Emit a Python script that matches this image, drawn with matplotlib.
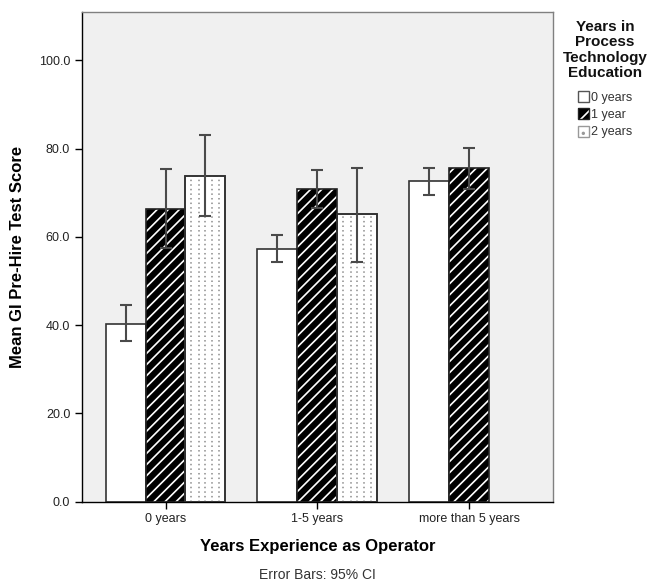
import numpy as np
import matplotlib
matplotlib.use('Agg')
import matplotlib.pyplot as plt
from matplotlib.patches import Patch

plt.rcParams['font.family'] = ['Liberation Sans', 'DejaVu Sans']
plt.rcParams['hatch.linewidth'] = 1.2

# Data (means and 95% CI bounds)
groups = ['0 years', '1-5 years', 'more than 5 years']
series = ['0 years', '1 year', '2 years']
mean_0yr = [40.2, 57.3, 72.6]
lo_0yr = [36.3, 54.3, 69.5]
hi_0yr = [44.5, 60.3, 75.5]
mean_1yr = [66.3, 70.9, 75.5]
lo_1yr = [57.5, 66.6, 70.8]
hi_1yr = [75.4, 75.2, 80.2]
mean_2yr = [73.7, 65.1, np.nan]
lo_2yr = [64.6, 54.3, np.nan]
hi_2yr = [83.1, 75.5, np.nan]

fig = plt.figure(figsize=(6.51, 5.84), dpi=100)
ax = fig.add_axes([0.126, 0.141, 0.723, 0.839])
ax.set_facecolor('#f0f0f0')

x = np.arange(len(groups))
w = 0.263
err_kw = dict(fmt='none', ecolor='#4a4a4a', elinewidth=1.5, capsize=4, capthick=1.5, zorder=5)

def errs(m, lo, hi):
    m, lo, hi = np.array(m), np.array(lo), np.array(hi)
    return np.vstack([m - lo, hi - m])

# 0 years: plain white bars
ax.bar(x - w, mean_0yr, w, color='white', edgecolor='#333333', linewidth=1.2, zorder=2)
ax.errorbar(x - w, mean_0yr, yerr=errs(mean_0yr, lo_0yr, hi_0yr), **err_kw)

# 1 year: black with white diagonal stripes
ax.bar(x, mean_1yr, w, color='black', edgecolor='white', hatch='///', linewidth=0, zorder=2)
ax.bar(x, mean_1yr, w, fill=False, edgecolor='#222222', linewidth=1.2, zorder=3)
ax.errorbar(x, mean_1yr, yerr=errs(mean_1yr, lo_1yr, hi_1yr), **err_kw)

# 2 years: white with dotted vertical lines
m2 = np.array(mean_2yr)
ok = ~np.isnan(m2)
ax.bar(x[ok] + w, m2[ok], w, color='white', edgecolor='#333333', linewidth=1.2, zorder=2)
for xi, h in zip(x[ok] + w, m2[ok]):
    cols = xi - w / 2 + w * np.array([0.15, 0.33, 0.5, 0.67, 0.85])
    ax.vlines(cols, 0, h, colors='#8c8c8c', linestyles=(0, (1, 2)), linewidth=1.1, zorder=2.5)
ax.bar(x[ok] + w, m2[ok], w, fill=False, edgecolor='#333333', linewidth=1.2, zorder=3)
ax.errorbar(x[ok] + w, m2[ok], yerr=errs(m2, lo_2yr, hi_2yr)[:, ok], **err_kw)

ax.set_xlim(-0.55, 2.55)
ax.set_ylim(0, 111)
ax.set_yticks([0, 20, 40, 60, 80, 100])
ax.set_yticklabels(['%.1f' % v for v in [0, 20, 40, 60, 80, 100]])
ax.set_xticks(x)
ax.set_xticklabels(groups)
ax.tick_params(axis='both', labelsize=9, length=5, width=1, colors='black', labelcolor='#222222')

for s in ['left', 'bottom']:
    ax.spines[s].set_color('black')
    ax.spines[s].set_linewidth(1)
for s in ['top', 'right']:
    ax.spines[s].set_color('#808080')
    ax.spines[s].set_linewidth(1)

ax.set_ylabel('Mean GI Pre-Hire Test Score', fontsize=12, fontweight='bold', labelpad=10)
ax.set_xlabel('Years Experience as Operator', fontsize=12, fontweight='bold', labelpad=10)
fig.text(0.5 * (0.126 + 0.849), 1 - 575 / 584, 'Error Bars: 95% CI', ha='center', va='center',
         fontsize=10, color='#333333')

# legend title drawn separately for spacing control
fig.text(605 / 651, 1 - 20 / 584, 'Years in\nProcess\nTechnology\nEducation', ha='center', va='top',
         multialignment='center', fontsize=11, fontweight='bold', linespacing=1.12, color='#111111')

handles = [
    Patch(facecolor='white', edgecolor='#555555', linewidth=1),
    (Patch(facecolor='black', edgecolor='white', hatch='//', linewidth=0),
     Patch(fill=False, edgecolor='#222222', linewidth=1)),
    (Patch(facecolor='white', edgecolor='#999999', hatch='..', linewidth=0),
     Patch(fill=False, edgecolor='#999999', linewidth=1)),
]
leg = fig.legend(handles, series, loc='upper center', bbox_to_anchor=(605 / 651, 1 - 91 / 584),
                 frameon=False, fontsize=9,
                 handlelength=0.9, handleheight=1.0, handletextpad=0.2, labelspacing=0.35,
                 borderpad=0, borderaxespad=0)
for t in leg.get_texts():
    t.set_color('#333333')

fig.savefig('out.png', dpi=100)
